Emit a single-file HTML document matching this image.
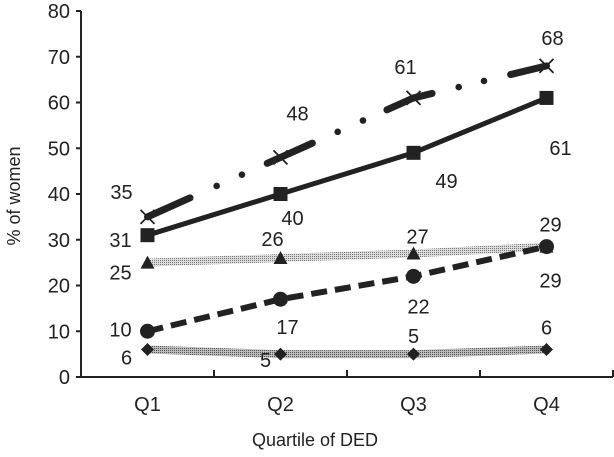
<!DOCTYPE html>
<html><head><meta charset="utf-8"><style>
html,body{margin:0;padding:0;background:#fff;}
svg{display:block;font-family:"Liberation Sans",Arial,sans-serif;}
</style></head><body>
<svg id="chart" width="614" height="457" viewBox="0 0 614 457">
<defs>
<pattern id="dots" width="2" height="2" patternUnits="userSpaceOnUse"><rect width="2" height="2" fill="#dcdcdc"/><rect width="1" height="1" fill="#777"/></pattern>
<pattern id="dots2" width="2" height="2" patternUnits="userSpaceOnUse"><rect width="2" height="2" fill="#bbb"/><rect width="1" height="1" fill="#555"/></pattern>
</defs>
<g id="axes"></g><g id="series"></g>
<text x="315" y="446" font-size="18" text-anchor="middle" fill="#222">Quartile of DED</text>
<text transform="translate(20,196) rotate(-90)" font-size="18" text-anchor="middle" fill="#222">% of women</text>
</svg>
<script>
const categories=["Q1","Q2","Q3","Q4"];
const yTicks=[0,10,20,30,40,50,60,70,80];
const crossVals=[35,48,61,68];
const squareVals=[31,40,49,61];
const triangleVals=[25,26,27,28.5];
const circleVals=[10,17,22,28.5];
const diamondVals=[6,5,5,6];
const crossLabels=[35,48,61,68];
const squareLabels=[31,40,49,61];
const triangleLabels=[25,26,27,29];
const circleLabels=[10,17,22,29];
const diamondLabels=[6,5,5,6];

const NS="http://www.w3.org/2000/svg";
const plotLeft=81,plotBottom=377,bw=133,plotTop=11;
const FS=20;
const xs=i=>plotLeft+bw*(i+0.5);
const ys=v=>plotBottom-(plotBottom-plotTop)*v/80;
function el(t,a,p){const e=document.createElementNS(NS,t);for(const k in a)e.setAttribute(k,a[k]);p.appendChild(e);return e;}
const ax=document.getElementById('axes'),sr=document.getElementById('series');
const yl=el('line',{x1:plotLeft,y1:plotTop,x2:plotLeft,y2:plotBottom,stroke:'#222','stroke-width':2},ax);


const xl=el('line',{x1:plotLeft,y1:plotBottom,x2:plotLeft+bw*4,y2:plotBottom,stroke:'#222','stroke-width':2},ax);


yTicks.forEach(v=>{
 el('line',{x1:plotLeft-5,y1:ys(v),x2:plotLeft,y2:ys(v),stroke:'#222','stroke-width':2},ax);
 const t=el('text',{x:plotLeft-11,y:ys(v)+7,'font-size':FS,'text-anchor':'end',fill:'#222'},ax);t.textContent=v;
 
 
});
categories.forEach((c,i)=>{
 el('line',{x1:plotLeft+bw*(i+1),y1:plotBottom,x2:plotLeft+bw*(i+1),y2:plotBottom-7,stroke:'#222','stroke-width':2},ax);
 const t=el('text',{x:xs(i),y:plotBottom+34,'font-size':FS,'text-anchor':'middle',fill:'#222'},ax);t.textContent=c;
 
 
});
function line(vals,attrs,name){
 const p=el('polyline',Object.assign({points:vals.map((v,i)=>xs(i)+','+ys(v)).join(' '),fill:'none'},attrs),sr);
 
 
}
function marker(type,cx,cy){
 let m;
 if(type==='cross'){m=el('path',{d:`M${cx-7},${cy-7}L${cx+7},${cy+7}M${cx+7},${cy-7}L${cx-7},${cy+7}`,stroke:'#222','stroke-width':1.8},sr);}
 else if(type==='square'){m=el('rect',{x:cx-7,y:cy-7,width:14,height:14,fill:'#222'},sr);}
 else if(type==='triangle'){m=el('path',{d:`M${cx},${cy-7}L${cx+7},${cy+6}L${cx-7},${cy+6}Z`,fill:'#222'},sr);}
 else if(type==='circle'){m=el('circle',{cx:cx,cy:cy,r:7.5,fill:'#222'},sr);}
 else {m=el('path',{d:`M${cx},${cy-6.5}L${cx+6.5},${cy}L${cx},${cy+6.5}L${cx-6.5},${cy}Z`,fill:'#222'},sr);}
 
 
}
function labels(vals,labs,offs){
 labs.forEach((l,i)=>{const t=el('text',{x:xs(i)+offs[i][0],y:ys(vals[i])+offs[i][1],'font-size':FS,'text-anchor':'middle',fill:'#222'},sr);t.textContent=l;
 
 });
}
function dashDot(vals){
 const g=el('g',{stroke:'#222','stroke-width':7,'stroke-linecap':'round',fill:'#222'},sr);
 
 
 const segF=[[0.32,0.52,0.71,0.9],[0.24,0.43,0.62,0.8],[0.14,0.34,0.53,0.73]];
 for(let i=0;i<vals.length-1;i++){
  const x0=xs(i),y0=ys(vals[i]),x1=xs(i+1),y1=ys(vals[i+1]);
  const dx=x1-x0,dy=y1-y0;
  const pt=f=>[x0+dx*f,y0+dy*f];
  const F=segF[i%3];
  const a=pt(0),b=pt(F[0]),c=pt(F[3]),d=pt(1);
  el('line',{x1:a[0],y1:a[1],x2:b[0],y2:b[1]},g);
  el('line',{x1:c[0],y1:c[1],x2:d[0],y2:d[1]},g);
  [F[1],F[2]].forEach(f=>{const p=pt(f);el('circle',{cx:p[0],cy:p[1],r:3.3,stroke:'none'},g);});
 }
}
line(diamondVals,{stroke:'url(#dots2)','stroke-width':8},'diamond-series-line');
line(triangleVals,{stroke:'url(#dots)','stroke-width':8},'triangle-series-line');
line(circleVals,{stroke:'#222','stroke-width':6,'stroke-dasharray':'16,8'},'circle-series-line');
line(squareVals,{stroke:'#222','stroke-width':5},'square-series-line');
dashDot(crossVals);
diamondVals.forEach((v,i)=>marker('diamond',xs(i),ys(v)));
triangleVals.forEach((v,i)=>marker('triangle',xs(i),ys(v)));
circleVals.forEach((v,i)=>marker('circle',xs(i),ys(v)));
squareVals.forEach((v,i)=>marker('square',xs(i),ys(v)));
crossVals.forEach((v,i)=>marker('cross',xs(i),ys(v)));
labels(crossVals,crossLabels,[[-26,-18],[17,-37],[-8,-24],[6,-21]]);
labels(squareVals,squareLabels,[[-27,12],[12,31],[33,35],[14,57]]);
labels(triangleVals,triangleLabels,[[-27,17],[-8,-12],[4,-10],[4,41]]);
labels(circleVals,circleLabels,[[-27,5],[7,35],[5,37],[4,-15]]);
labels(diamondVals,diamondLabels,[[-21,15],[-15,13],[0,-11],[0,-15]]);
</script>
</body></html>
